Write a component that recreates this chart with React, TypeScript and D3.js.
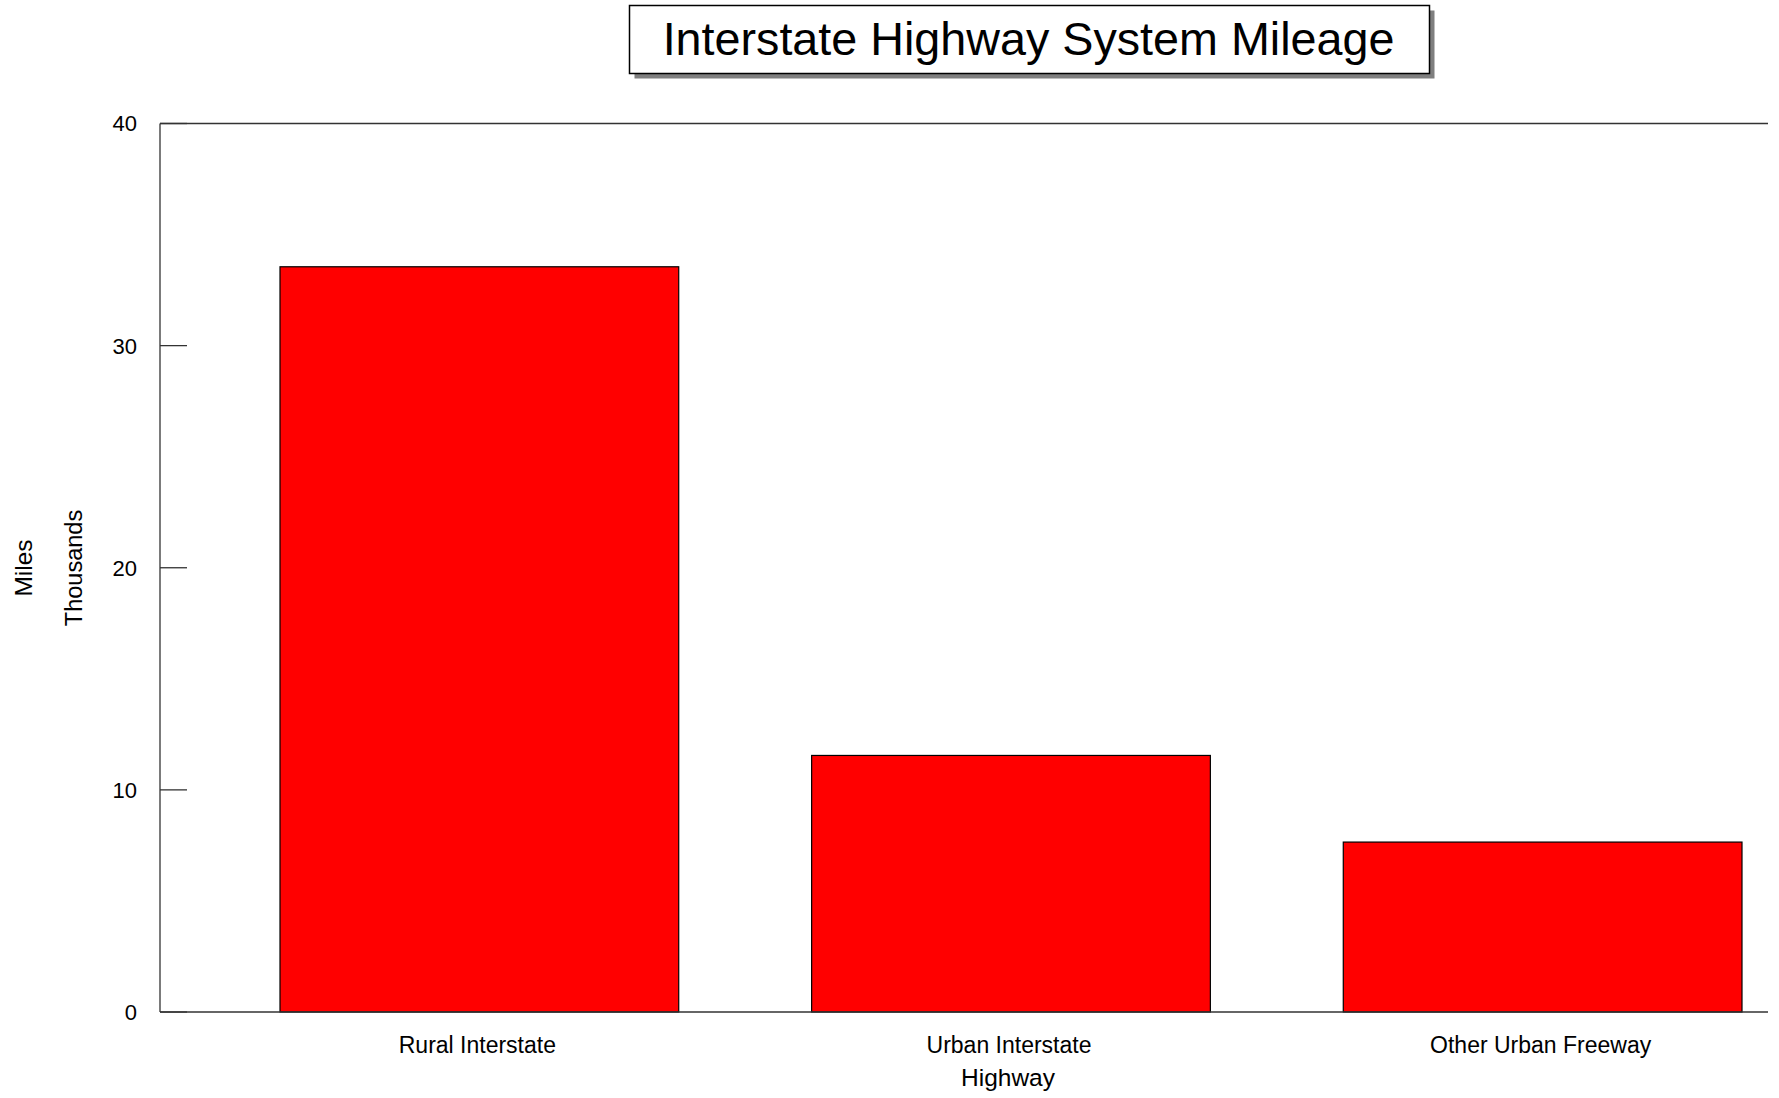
// @ts-nocheck
import React, { useEffect, useRef } from "react";
import * as d3 from "d3";

const categories = ["Rural Interstate", "Urban Interstate", "Other Urban Freeway"];
const mileage = [33.55, 11.55, 7.65]; // thousands of miles
const yTicks = [0, 10, 20, 30, 40];

const W = 1779;
const H = 1098;
const FONT = "'Liberation Sans', Arial, Helvetica, sans-serif";

export default function App() {
  const svgRef = useRef(null);

  useEffect(() => {
    const svg = d3.select(svgRef.current);
    svg.selectAll("*").remove();

    const left = 160;
    const right = 1768;
    const top = 123.5;
    const bottom = 1012;

    const y = d3.scaleLinear().domain([0, 40]).range([bottom, top]);
    const x = d3.scaleBand().domain(categories).range([280, 1742]).paddingInner(0.25);

    // title box with drop shadow
    const tb = { x: 629.5, y: 5.5, w: 800, h: 68 };
    svg.append("rect")
      .attr("x", tb.x + 5).attr("y", tb.y + 5)
      .attr("width", tb.w).attr("height", tb.h)
      .attr("fill", "#7f7f7f");
    svg.append("rect")
      .attr("x", tb.x).attr("y", tb.y)
      .attr("width", tb.w).attr("height", tb.h)
      .attr("fill", "#fff").attr("stroke", "#000").attr("stroke-width", 1.5);
    svg.append("text")
      .attr("x", tb.x + tb.w / 2 - 1).attr("y", 55)
      .attr("text-anchor", "middle")
      .attr("font-family", FONT).attr("font-size", 46.7)
      .attr("fill", "#000")
      .text("Interstate Highway System Mileage");

    // bars
    svg.append("g")
      .selectAll("rect")
      .data(categories)
      .join("rect")
      .attr("x", d => x(d))
      .attr("y", (d, i) => y(mileage[i]))
      .attr("width", x.bandwidth())
      .attr("height", (d, i) => y(0) - y(mileage[i]))
      .attr("fill", "#ff0000")
      .attr("stroke", "#000")
      .attr("stroke-width", 1.2);

    // frame lines
    const axisCol = "#333";
    svg.append("line")
      .attr("x1", left).attr("x2", left).attr("y1", top).attr("y2", bottom)
      .attr("stroke", axisCol).attr("stroke-width", 1.3);
    svg.append("line")
      .attr("x1", left).attr("x2", right).attr("y1", y(0)).attr("y2", y(0))
      .attr("stroke", axisCol).attr("stroke-width", 1.3);
    svg.append("line")
      .attr("x1", left).attr("x2", right).attr("y1", y(40)).attr("y2", y(40))
      .attr("stroke", axisCol).attr("stroke-width", 1.3);

    // y ticks (inward) and labels
    const tg = svg.append("g");
    tg.selectAll("line")
      .data(yTicks)
      .join("line")
      .attr("x1", left).attr("x2", left + 27)
      .attr("y1", d => y(d)).attr("y2", d => y(d))
      .attr("stroke", axisCol).attr("stroke-width", 1.3);
    tg.selectAll("text")
      .data(yTicks)
      .join("text")
      .attr("x", 137)
      .attr("y", d => y(d))
      .attr("dy", "0.36em")
      .attr("text-anchor", "end")
      .attr("font-family", FONT).attr("font-size", 22)
      .attr("fill", "#000")
      .text(d => d);

    // category labels
    svg.append("g")
      .selectAll("text")
      .data(categories)
      .join("text")
      .attr("x", d => x(d) + x.bandwidth() / 2 - 2)
      .attr("y", 1053)
      .attr("text-anchor", "middle")
      .attr("font-family", FONT).attr("font-size", 23)
      .attr("fill", "#000")
      .text(d => d);

    // axis titles
    svg.append("text")
      .attr("x", x(categories[1]) + x.bandwidth() / 2 - 3).attr("y", 1086)
      .attr("text-anchor", "middle")
      .attr("font-family", FONT).attr("font-size", 24.5)
      .attr("fill", "#000")
      .text("Highway");

    svg.append("text")
      .attr("transform", `translate(32, 568) rotate(-90)`)
      .attr("text-anchor", "middle")
      .attr("font-family", FONT).attr("font-size", 24.5)
      .attr("fill", "#000")
      .text("Miles");

    svg.append("text")
      .attr("transform", `translate(82, 568) rotate(-90)`)
      .attr("text-anchor", "middle")
      .attr("font-family", FONT).attr("font-size", 23.5)
      .attr("fill", "#000")
      .text("Thousands");
  }, []);

  return (
    <svg
      ref={svgRef}
      width={W}
      height={H}
      style={{ position: "absolute", left: 0, top: 0, display: "block", background: "#fff" }}
    />
  );
}
